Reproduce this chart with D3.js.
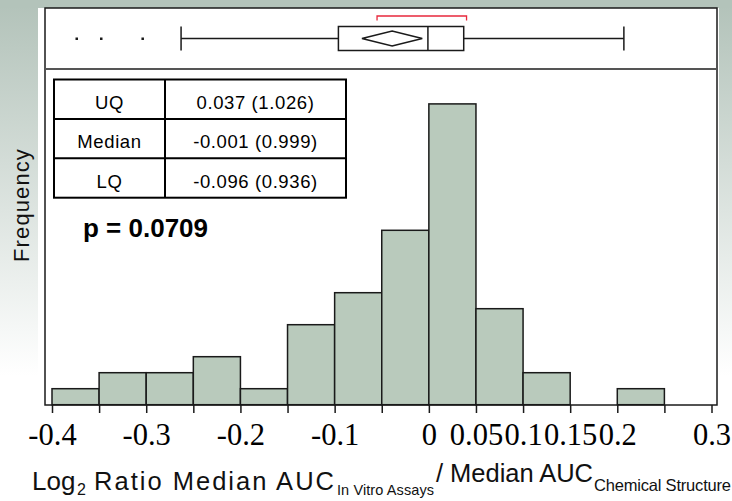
<!DOCTYPE html>
<html>
<head>
<meta charset="utf-8">
<script src="https://cdn.jsdelivr.net/npm/d3@7"></script>
<style>
  html, body { margin: 0; padding: 0; background: #fff; }
  svg { display: block; }
</style>
</head>
<body>
<svg id="chart" width="732" height="501"></svg>
<script>
// Histogram bins (left edges, width 0.05) and frequencies
const binStarts = [-0.4, -0.35, -0.3, -0.25, -0.2, -0.15, -0.1, -0.05, 0, 0.05, 0.1, 0.15, 0.2];
const binWidth = 0.05;
const counts = [1, 2, 2, 3, 1, 5, 7, 10.9, 18.8, 6, 2, 0, 1];

// Axis ticks and labels
const tickValues = [-0.4, -0.35, -0.3, -0.25, -0.2, -0.15, -0.1, -0.05, 0, 0.05, 0.1, 0.15, 0.2, 0.25, 0.3];
const tickLabels = [-0.4, -0.3, -0.2, -0.1, 0, 0.05, 0.1, 0.15, 0.2, 0.3];

// Box plot summary
const outliers = [-0.374, -0.348, -0.304];
const whiskers = [-0.263, 0.207];
const quartiles = [-0.096, -0.001, 0.037];   // LQ, median, UQ
const meanDiamond = [-0.071, -0.039, -0.007]; // lower, mean, upper
const shortestHalf = [-0.055, 0.040];

// Summary table
const tableRows = ["UQ", "Median", "LQ"];
const tableValues = ["0.037 (1.026)", "-0.001 (0.999)", "-0.096 (0.936)"];
const pText = "p = 0.0709";

const svg = d3.select("#chart");
const W = 732, H = 501;
const SANS = "'Liberation Sans', Arial, sans-serif";

// Background: soft grey-green fade with a white page
const defs = svg.append("defs");
const bg = defs.append("linearGradient").attr("id", "bgfade")
  .attr("x1", 0).attr("y1", 0).attr("x2", 0).attr("y2", 1);
bg.append("stop").attr("offset", "0%").attr("stop-color", "#b2c2b9");
bg.append("stop").attr("offset", "75%").attr("stop-color", "#ffffff");
bg.append("stop").attr("offset", "100%").attr("stop-color", "#ffffff");
svg.append("rect").attr("width", W).attr("height", H).attr("fill", "url(#bgfade)");
svg.append("rect").attr("x", 0).attr("y", 0).attr("width", W).attr("height", 8).attr("fill", "#b3c3ba");
svg.append("rect").attr("x", 38).attr("y", 8).attr("width", 681).attr("height", H - 8).attr("fill", "#fff");

// Plot frame
const frame = { left: 45, right: 717, top: 8, divider: 69, bottom: 405 };

const x = d3.scaleLinear().domain([-0.4, 0.3]).range([52, 711.5]);
const y = d3.scaleLinear().domain([0, 21]).range([404.7, 68.7]);

// Histogram bars
svg.append("g").selectAll("rect")
  .data(binStarts.map((s, i) => ({ s, c: counts[i] })).filter(d => d.c > 0))
  .join("rect")
  .attr("x", d => x(d.s))
  .attr("y", d => y(d.c))
  .attr("width", d => x(d.s + binWidth) - x(d.s))
  .attr("height", d => y(0) - y(d.c))
  .attr("fill", "#b9cabc")
  .attr("stroke", "#1a1a1a")
  .attr("stroke-width", 1.5);

// Frame and box-plot divider
svg.append("rect")
  .attr("x", frame.left).attr("y", frame.top)
  .attr("width", frame.right - frame.left).attr("height", frame.bottom - frame.top)
  .attr("fill", "none").attr("stroke", "#1a1a1a").attr("stroke-width", 1.5);
svg.append("line")
  .attr("x1", frame.left).attr("x2", frame.right)
  .attr("y1", frame.divider).attr("y2", frame.divider)
  .attr("stroke", "#555").attr("stroke-width", 2);

// X axis ticks below the frame
const isLabelled = d => tickLabels.some(v => Math.abs(v - d) < 1e-9);
const axis = d3.axisBottom(x).tickValues(tickValues).tickSize(8).tickSizeOuter(0)
  .tickFormat(d => isLabelled(d) ? String(+d.toFixed(2)) : "");
const gx = svg.append("g").attr("transform", `translate(0,${frame.bottom})`).call(axis);
gx.select(".domain").remove();
gx.selectAll(".tick line").attr("stroke", "#1a1a1a").attr("stroke-width", 1.5);
gx.selectAll(".tick text")
  .attr("font-family", "'Liberation Serif', 'Times New Roman', serif")
  .attr("font-size", 30.5).attr("fill", "#000")
  .attr("dy", null).attr("y", 39.5);

// Box plot
const bp = svg.append("g").attr("stroke", "#1a1a1a").attr("stroke-width", 1.5).attr("fill", "none");
const bY = 38.5, bTop = 26.5, bBot = 50.5;
bp.append("line").attr("x1", x(whiskers[0])).attr("x2", x(quartiles[0])).attr("y1", bY).attr("y2", bY);
bp.append("line").attr("x1", x(quartiles[2])).attr("x2", x(whiskers[1])).attr("y1", bY).attr("y2", bY);
whiskers.forEach(w => bp.append("line").attr("x1", x(w)).attr("x2", x(w)).attr("y1", bTop).attr("y2", bBot));
bp.append("rect").attr("x", x(quartiles[0])).attr("y", bTop)
  .attr("width", x(quartiles[2]) - x(quartiles[0])).attr("height", bBot - bTop);
bp.append("line").attr("x1", x(quartiles[1])).attr("x2", x(quartiles[1])).attr("y1", bTop).attr("y2", bBot);
bp.append("path").attr("d",
  `M${x(meanDiamond[0])},${bY} L${x(meanDiamond[1])},${bY - 7.5} L${x(meanDiamond[2])},${bY} L${x(meanDiamond[1])},${bY + 7.5} Z`);
svg.append("g").selectAll("rect").data(outliers).join("rect")
  .attr("x", d => x(d) - 1).attr("y", bY - 1).attr("width", 2.5).attr("height", 2.5).attr("fill", "#1a1a1a");
svg.append("path")
  .attr("d", `M${x(shortestHalf[0])},20.5 V16 H${x(shortestHalf[1])} V20.5`)
  .attr("fill", "none").attr("stroke", "#e8283c").attr("stroke-width", 1.3);

// Summary table
const tbl = { left: 54, mid: 165, right: 346, top: 79.5, rowH: 39.4 };
const tg = svg.append("g");
tg.append("rect").attr("x", tbl.left).attr("y", tbl.top)
  .attr("width", tbl.right - tbl.left).attr("height", tbl.rowH * tableRows.length)
  .attr("fill", "#fff").attr("stroke", "#000").attr("stroke-width", 2);
tg.append("line").attr("x1", tbl.mid).attr("x2", tbl.mid)
  .attr("y1", tbl.top).attr("y2", tbl.top + tbl.rowH * tableRows.length)
  .attr("stroke", "#000").attr("stroke-width", 2);
tableRows.slice(1).forEach((r, i) => {
  tg.append("line").attr("x1", tbl.left).attr("x2", tbl.right)
    .attr("y1", tbl.top + tbl.rowH * (i + 1)).attr("y2", tbl.top + tbl.rowH * (i + 1))
    .attr("stroke", "#000").attr("stroke-width", 2);
});
tableRows.forEach((r, i) => {
  const by = tbl.top + tbl.rowH * i + 29.5;
  tg.append("text").attr("x", (tbl.left + tbl.mid) / 2).attr("y", by)
    .attr("text-anchor", "middle").attr("font-family", SANS)
    .attr("font-size", 18.5).attr("letter-spacing", 0.6).text(r);
  tg.append("text").attr("x", (tbl.mid + tbl.right) / 2).attr("y", by)
    .attr("text-anchor", "middle").attr("font-family", SANS)
    .attr("font-size", 18.5).attr("letter-spacing", 0.6).text(tableValues[i]);
});

svg.append("text").attr("x", 83).attr("y", 237)
  .attr("font-family", SANS)
  .attr("font-weight", "bold").attr("font-size", 26).text(pText);

// Axis titles
svg.append("text")
  .attr("transform", "translate(29,205) rotate(-90)")
  .attr("text-anchor", "middle")
  .attr("font-family", SANS).attr("letter-spacing", 1.1)
  .attr("font-size", 22).attr("fill", "#111").text("Frequency");

// X title: main words with subscripted qualifiers
const titleParts = [
  { t: "Log", x: 32, y: 490, size: 26, len: null },
  { t: "2", x: 77, y: 495, size: 16, len: null },
  { t: "Ratio Median AUC", x: 94, y: 490, size: 25.5, len: 240 },
  { t: "In Vitro Assays", x: 337, y: 495, size: 14.5, len: 97 },
  { t: "/ Median AUC", x: 436, y: 482, size: 25.5, len: 157 },
  { t: "Chemical Structure", x: 594, y: 491, size: 16.5, len: 137 }
];
svg.append("g").selectAll("text").data(titleParts).join("text")
  .attr("x", d => d.x).attr("y", d => d.y)
  .attr("font-family", SANS).attr("font-size", d => d.size).attr("fill", "#111")
  .attr("textLength", d => d.len).attr("lengthAdjust", d => d.len ? "spacing" : null)
  .text(d => d.t);
</script>
</body>
</html>
